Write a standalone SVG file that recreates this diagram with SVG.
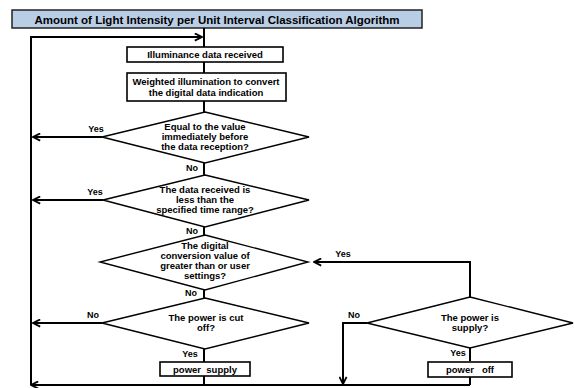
<svg xmlns="http://www.w3.org/2000/svg" width="574" height="388" viewBox="0 0 574 388">
<defs>
<marker id="arr" viewBox="0 0 10 10" refX="9" refY="5" markerWidth="10" markerHeight="9" markerUnits="userSpaceOnUse" orient="auto">
<path d="M1,1 L9,5 L1,9" fill="none" stroke="#000" stroke-width="2"/>
</marker>
<style>
.box{fill:#fff;stroke:#000;stroke-width:1.6}
.dia{fill:#fff;stroke:#000;stroke-width:1.4}
.t{font-family:"Liberation Sans",Arial,sans-serif;font-weight:bold;font-size:9.5px;fill:#000;text-anchor:middle}
.lbl{font-family:"Liberation Sans",Arial,sans-serif;font-weight:bold;font-size:9px;fill:#000;text-anchor:middle}
.pre{white-space:pre}
.ln{fill:none;stroke:#000;stroke-width:2}
.ar{fill:none;stroke:#000;stroke-width:2;marker-end:url(#arr)}
</style>
</defs>
<rect width="574" height="388" fill="#fff"/>
<g id="title">
<rect x="12" y="10" width="410" height="18" fill="#b9cde5" stroke="#222" stroke-width="1.5"/>
<text x="217" y="23.5" class="t" style="font-size:11.5px">Amount of Light Intensity per Unit Interval Classification Algorithm</text>
</g>
<g id="connectors">
<path class="ln" d="M204,28 V47"/>
<path class="ln" d="M204,62 V73"/>
<path class="ln" d="M204,101 V112"/>
<path class="ln" d="M204,163 V175"/>
<path class="ln" d="M204,227 V235"/>
<path class="ln" d="M204,290 V298"/>
<path class="ln" d="M204,349 V362"/>
<path class="ln" d="M204,376 V385"/>
<path class="ar" d="M470,385 H31"/>
<path class="ar" d="M31,385 V37 H202"/>
<path class="ar" d="M102,137 H33"/>
<path class="ar" d="M103,200 H33"/>
<path class="ar" d="M102,323 H33"/>
<path class="ar" d="M470,297 V262 H314"/>
<path class="ar" d="M367,323 H343 V384"/>
<path class="ln" d="M470,348 V361"/>
<path class="ln" d="M470,377 V385"/>
<text x="192" y="171" class="lbl">No</text>
<text x="192" y="234" class="lbl">No</text>
<text x="191" y="296" class="lbl">No</text>
<text x="190" y="357" class="lbl">Yes</text>
<text x="96" y="132" class="lbl">Yes</text>
<text x="95" y="195" class="lbl">Yes</text>
<text x="93" y="318" class="lbl">No</text>
<text x="343" y="257" class="lbl">Yes</text>
<text x="354" y="318" class="lbl">No</text>
<text x="458" y="356" class="lbl">Yes</text>
</g>
<g id="n1">
<rect class="box" x="127" y="47" width="156" height="15"/>
<text x="205" y="58" class="t">Illuminance data received</text>
</g>
<g id="n2">
<rect class="box" x="127" y="73" width="159" height="28"/>
<text x="206" y="85" class="t">Weighted illumination to convert</text>
<text x="206" y="96" class="t">the digital data indication</text>
</g>
<g id="d1">
<polygon class="dia" points="205,112 309,137 205,163 102,137"/>
<text x="205" y="130" class="t">Equal to the value</text>
<text x="205" y="140" class="t">immediately before</text>
<text x="205" y="150" class="t">the data reception?</text>
</g>
<g id="d2">
<polygon class="dia" points="205,175 309,200 205,227 103,200"/>
<text x="205" y="193" class="t">The data received is</text>
<text x="205" y="203" class="t">less than the</text>
<text x="205" y="213" class="t">specified time range?</text>
</g>
<g id="d3">
<polygon class="dia" points="205,235 308,262 205,290 100,262"/>
<text x="205" y="249" class="t">The digital</text>
<text x="205" y="259" class="t">conversion value of</text>
<text x="205" y="269" class="t">greater than or user</text>
<text x="205" y="279" class="t">settings?</text>
</g>
<g id="d4">
<polygon class="dia" points="205,298 309,323 205,349 102,323"/>
<text x="206" y="321" class="t">The power is cut</text>
<text x="206" y="331" class="t">off?</text>
</g>
<g id="n3">
<rect class="box" x="160" y="362" width="90" height="14"/>
<text x="205" y="372.5" class="t pre">power  supply</text>
</g>
<g id="d5">
<polygon class="dia" points="470,297 573,323 470,348 367,323"/>
<text x="470" y="321" class="t">The power is</text>
<text x="470" y="331" class="t">supply?</text>
</g>
<g id="n4">
<rect class="box" x="428" y="362" width="84" height="15"/>
<text x="470" y="373" class="t pre">power   off</text>
</g>
</svg>
